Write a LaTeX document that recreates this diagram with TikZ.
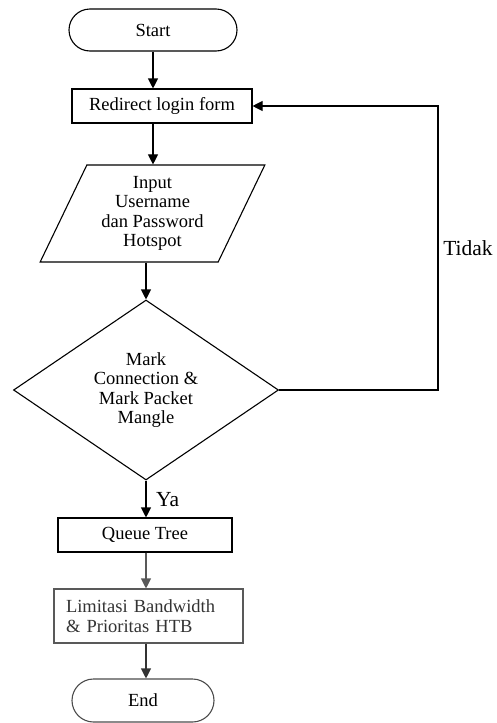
\documentclass[tikz,border=0pt]{standalone}
\usepackage{fontspec}
\setmainfont{Liberation Serif}
\usetikzlibrary{arrows.meta,shapes.geometric,shapes.misc}
\begin{document}
\begin{tikzpicture}[x=1pt,y=-1pt,
  every node/.style={font=\fontsize{18.5}{19.5}\selectfont, inner sep=0pt},
  box/.style={draw, line width=1.1pt, rectangle},
  term/.style={draw, line width=1.1pt, rounded rectangle},
  arr/.style={line width=1.1pt, -{Triangle[length=10pt,width=10pt]}},
  lbl/.style={font=\fontsize{21.5}{22}\selectfont}]
\useasboundingbox (0,0) rectangle (497,723);
\node[term, minimum width=168pt, minimum height=42pt] (start) at (153,30) {Start};
\node[box, minimum width=180pt, minimum height=34pt] (redirect) at (162,106) {Redirect login form};
\node[draw, line width=1.1pt, trapezium, trapezium left angle=64, trapezium right angle=116,
  trapezium stretches=true, minimum width=225pt, minimum height=97pt, align=center] (input) at (152.5,213.5)
  {Input\\Username\\dan Password\\Hotspot};
\node[draw, line width=1.1pt, diamond, minimum width=265pt, minimum height=180pt, align=center] (cond) at (146,390)
  {Mark\\Connection \&\\Mark Packet\\Mangle};
\node[box, minimum width=174pt, minimum height=34pt] (queue) at (145,535) {Queue Tree};
\node[box, draw=black!65, text=black!80, minimum width=189pt, minimum height=54pt, align=left, text width=165pt] (limit) at (148.5,616)
  {Limitasi Bandwidth\\\& Prioritas HTB};
\node[term, draw=black!70, minimum width=142pt, minimum height=43pt] (end) at (143,700.5) {End};
\coordinate (loop) at (438,390);
\node[lbl] (tidak) at (468,248) {Tidak};
\node[lbl, anchor=west] (ya) at (156,500) {Ya};
\draw[arr] (start.south) -- (start.south |- redirect.north);
\draw[arr] (redirect.south -| start) -- (input.north -| start);
\draw[arr] (cond.north |- input.south) -- (cond.north);
\draw[arr] (cond.east) -- (loop) |- (redirect.east);
\draw[arr] (cond.south) -- (cond.south |- queue.north);
\draw[arr, draw=black!65, fill=black!65] (queue.south -| cond.south) -- (limit.north -| cond.south);
\draw[arr, draw=black!80, fill=black!80] (limit.south -| cond.south) -- (end.north -| cond.south);
\end{tikzpicture}
\end{document}
